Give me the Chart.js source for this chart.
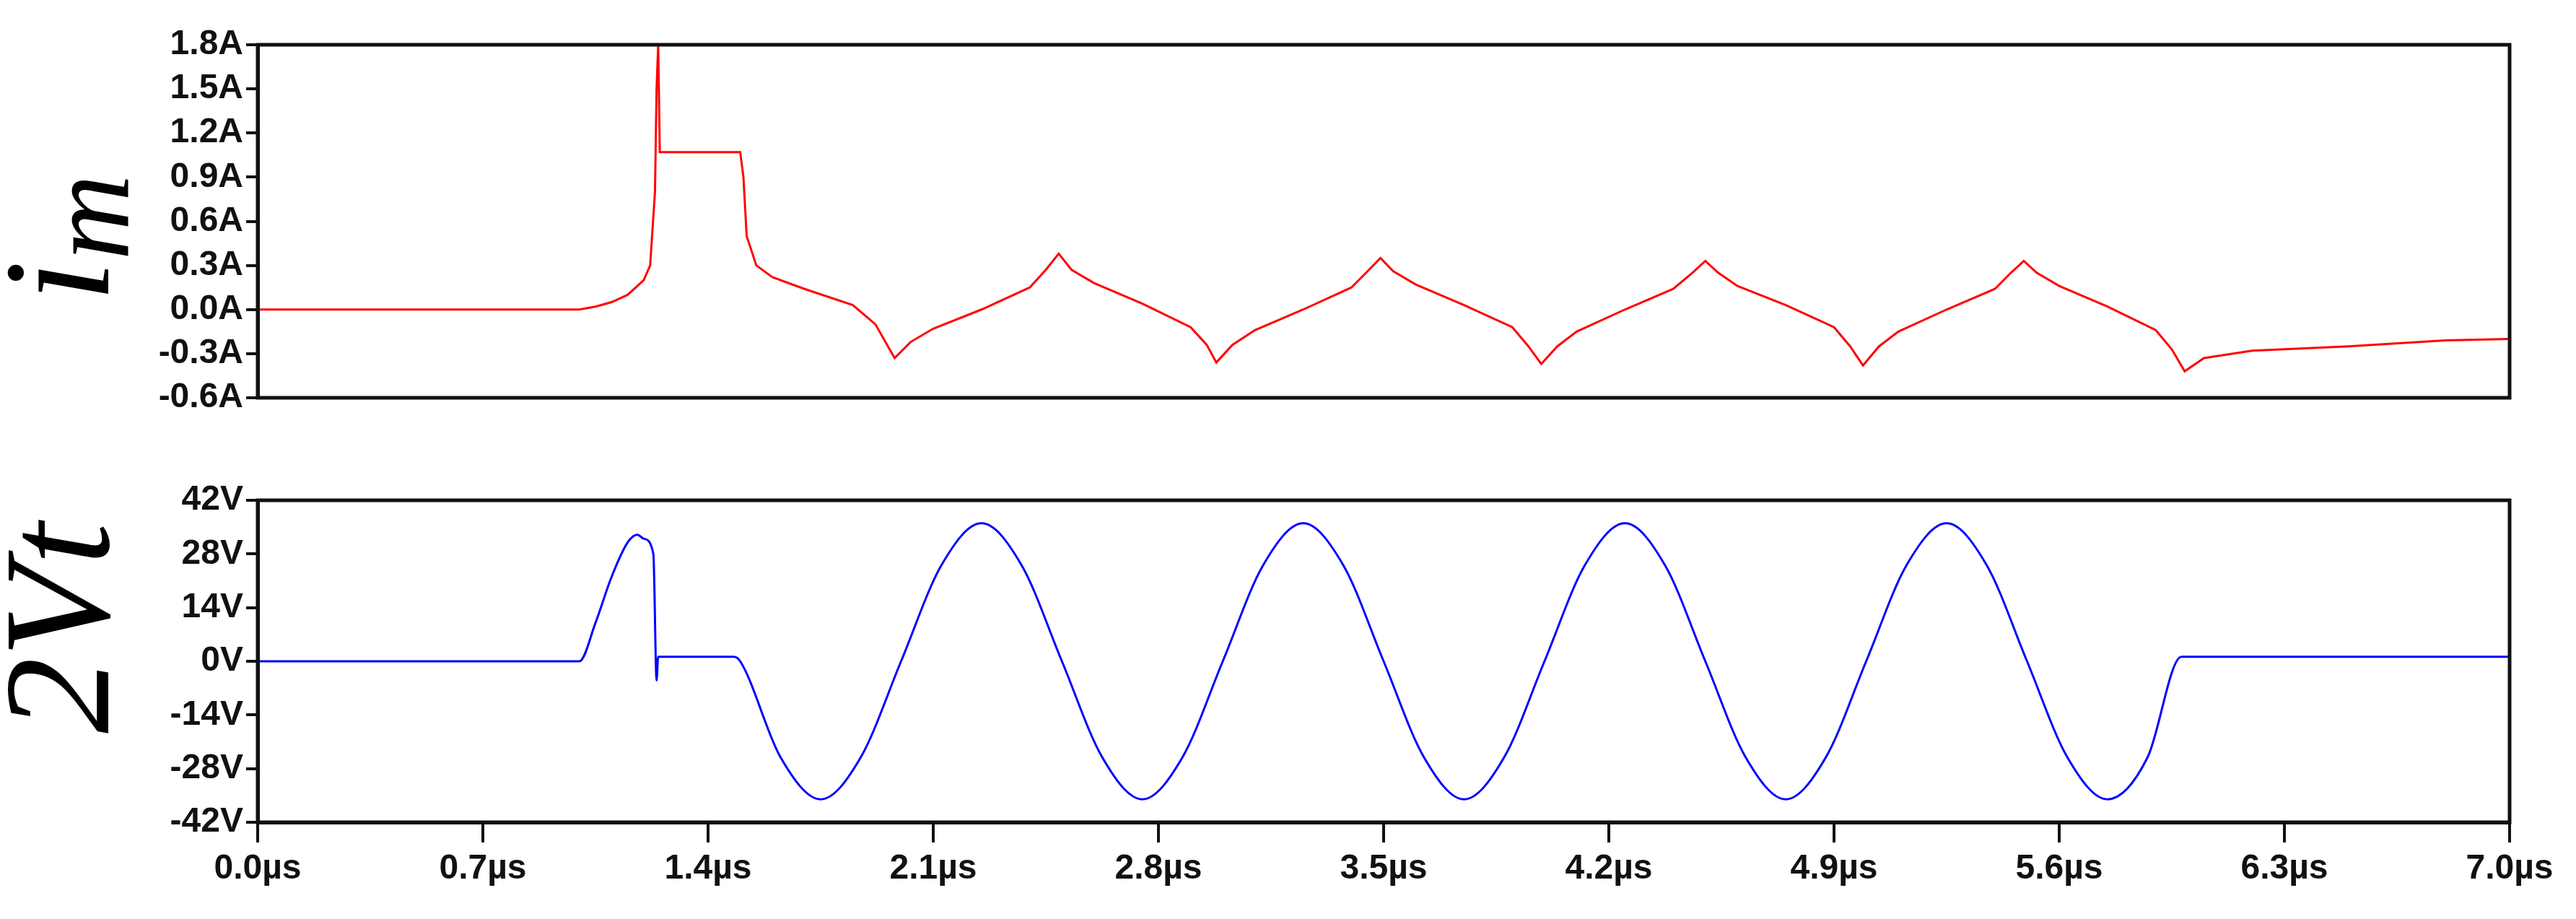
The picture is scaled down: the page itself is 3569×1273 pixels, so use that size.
<!DOCTYPE html>
<html>
<head>
<meta charset="utf-8">
<script src="https://cdn.jsdelivr.net/npm/chart.js@4.4.0/dist/chart.umd.min.js"></script>
<style>
  html, body { margin: 0; padding: 0; background: #fff; }
  canvas { position: absolute; left: 0; }
  #top { top: 0; }
  #bot { top: 620px; }
</style>
</head>
<body>
<canvas id="top" width="3569" height="620"></canvas>
<canvas id="bot" width="3569" height="653"></canvas>
<script>
// time in µs
const currentT = [0, 1.0, 1.05, 1.1, 1.15, 1.2, 1.22, 1.235, 1.24, 1.245, 1.25, 1.5, 1.51, 1.52, 1.55, 1.6, 1.7, 1.85,
  1.92, 1.98, 2.03, 2.1, 2.25, 2.4, 2.45, 2.49,
  2.53, 2.6, 2.75, 2.9, 2.95, 2.98,
  3.03, 3.1, 3.25, 3.4, 3.45, 3.49,
  3.53, 3.6, 3.75, 3.9, 3.95, 3.99,
  4.04, 4.1, 4.25, 4.4, 4.46, 4.5,
  4.54, 4.6, 4.75, 4.9, 4.95, 4.99,
  5.04, 5.1, 5.25, 5.4, 5.45, 5.49,
  5.53, 5.6, 5.75, 5.9, 5.95, 5.99,
  6.05, 6.2, 6.5, 6.8, 7.0];
const currentA = [0, 0, 0.02, 0.05, 0.1, 0.2, 0.3, 0.8, 1.5, 1.8, 1.07, 1.07, 0.9, 0.5, 0.3, 0.22, 0.14, 0.03,
  -0.1, -0.33, -0.22, -0.13, 0.0, 0.15, 0.27, 0.38,
  0.27, 0.18, 0.04, -0.12, -0.24, -0.36,
  -0.24, -0.14, 0.0, 0.15, 0.26, 0.35,
  0.26, 0.17, 0.03, -0.12, -0.25, -0.37,
  -0.25, -0.15, 0.0, 0.14, 0.25, 0.33,
  0.25, 0.16, 0.03, -0.12, -0.25, -0.38,
  -0.25, -0.15, 0.0, 0.14, 0.25, 0.33,
  0.25, 0.16, 0.02, -0.14, -0.27, -0.42,
  -0.33, -0.28, -0.25, -0.21, -0.2];

const voltT = [0, 1.0, 1.05, 1.1, 1.15, 1.18, 1.2, 1.23, 1.24, 1.245, 1.48, 1.5,
  1.625, 1.75, 1.875, 2.0, 2.125, 2.25, 2.375, 2.5, 2.625, 2.75, 2.875, 3.0, 3.125, 3.25, 3.375, 3.5,
  3.625, 3.75, 3.875, 4.0, 4.125, 4.25, 4.375, 4.5, 4.625, 4.75, 4.875, 5.0, 5.125, 5.25, 5.375, 5.5,
  5.625, 5.75, 5.875, 5.98, 7.0];
const voltV = [0, 0, 10, 22, 31, 33, 32, 28, -5, 1.2, 1.2, 0,
  -25, -36, -25, 0, 25, 36, 25, 0, -25, -36, -25, 0, 25, 36, 25, 0,
  -25, -36, -25, 0, 25, 36, 25, 0, -25, -36, -25, 0, 25, 36, 25, 0,
  -25, -36, -25, 1.2, 1.2];

const timeTicks = [0, 0.7, 1.4, 2.1, 2.8, 3.5, 4.2, 4.9, 5.6, 6.3, 7.0];

const tickFont = { family: "'Liberation Sans Narrow', 'Liberation Sans', Arial", size: 48, weight: 'bold' };

function pts(t, v) { return t.map((x, i) => ({ x: x, y: v[i] })); }

const frame = {
  id: 'frame',
  afterDraw(chart, args, opts) {
    const { ctx, chartArea: a } = chart;
    ctx.save();
    ctx.strokeStyle = '#111';
    ctx.lineWidth = 5;
    ctx.strokeRect(a.left, a.top, a.right - a.left, a.bottom - a.top);
    ctx.restore();
    if (opts.title) {
      const big = "italic 210px 'Liberation Serif', 'DejaVu Serif', serif";
      const small = "italic 165px 'Liberation Serif', 'DejaVu Serif', serif";
      ctx.save();
      ctx.translate(opts.x, opts.y);
      ctx.rotate(-Math.PI / 2);
      ctx.fillStyle = '#000';
      ctx.textBaseline = 'middle';
      ctx.font = big;
      if (opts.sub) {
        const w = ctx.measureText(opts.title).width;
        ctx.font = small;
        const sw = ctx.measureText(opts.sub).width;
        const x0 = -(w + sw) / 2;
        ctx.font = big;
        ctx.fillText(opts.title, x0, 0);
        ctx.font = small;
        ctx.fillText(opts.sub, x0 + w, 40);
      } else {
        ctx.textAlign = 'center';
        ctx.fillText(opts.title, 0, 0);
      }
      ctx.restore();
    }
  }
};

function yAxis(min, max, step, unit, digits) {
  return {
    min: min, max: max,
    afterFit(s) { s.width = 357; },
    afterBuildTicks(s) {
      const t = [];
      for (let i = 0; i <= Math.round((max - min) / step); i++) t.push({ value: min + i * step });
      s.ticks = t;
    },
    border: { color: '#111', width: 5 },
    grid: { drawOnChartArea: false, color: '#111', lineWidth: 4, tickLength: 16 },
    ticks: { color: '#111', font: tickFont, padding: 4, callback: v => v.toFixed(digits) + unit }
  };
}

new Chart(document.getElementById('top'), {
  type: 'line',
  data: { datasets: [{ data: pts(currentT, currentA), borderColor: '#ff0000', borderWidth: 3, pointRadius: 0, tension: 0 }] },
  options: {
    responsive: false, animation: false,
    layout: { padding: { top: 62, right: 92, bottom: 69, left: 0 } },
    plugins: { legend: { display: false }, tooltip: { enabled: false },
      frame: { title: 'i', sub: 'm', x: 95, y: 330 } },
    scales: {
      x: { type: 'linear', min: 0, max: 7, display: false },
      y: yAxis(-0.6, 1.8, 0.3, 'A', 1)
    }
  },
  plugins: [frame]
});

new Chart(document.getElementById('bot'), {
  type: 'line',
  data: { datasets: [{ data: pts(voltT, voltV), borderColor: '#0000ff', borderWidth: 3, pointRadius: 0, cubicInterpolationMode: 'monotone' }] },
  options: {
    responsive: false, animation: false,
    layout: { padding: { top: 73, right: 92, bottom: 0, left: 0 } },
    plugins: { legend: { display: false }, tooltip: { enabled: false },
      frame: { title: '2Vt', x: 95, y: 250 } },
    scales: {
      x: {
        type: 'linear', min: 0, max: 7,
        afterFit(s) { s.height = 134; },
        afterBuildTicks(s) { s.ticks = timeTicks.map(v => ({ value: v })); },
        border: { color: '#111', width: 5 },
        grid: { drawOnChartArea: false, color: '#111', lineWidth: 4, tickLength: 28 },
        ticks: { color: '#111', font: tickFont, padding: 8, maxRotation: 0, autoSkip: false, callback: v => v.toFixed(1) + 'µs' }
      },
      y: yAxis(-42, 42, 14, 'V', 0)
    }
  },
  plugins: [frame]
});
</script>
</body>
</html>
